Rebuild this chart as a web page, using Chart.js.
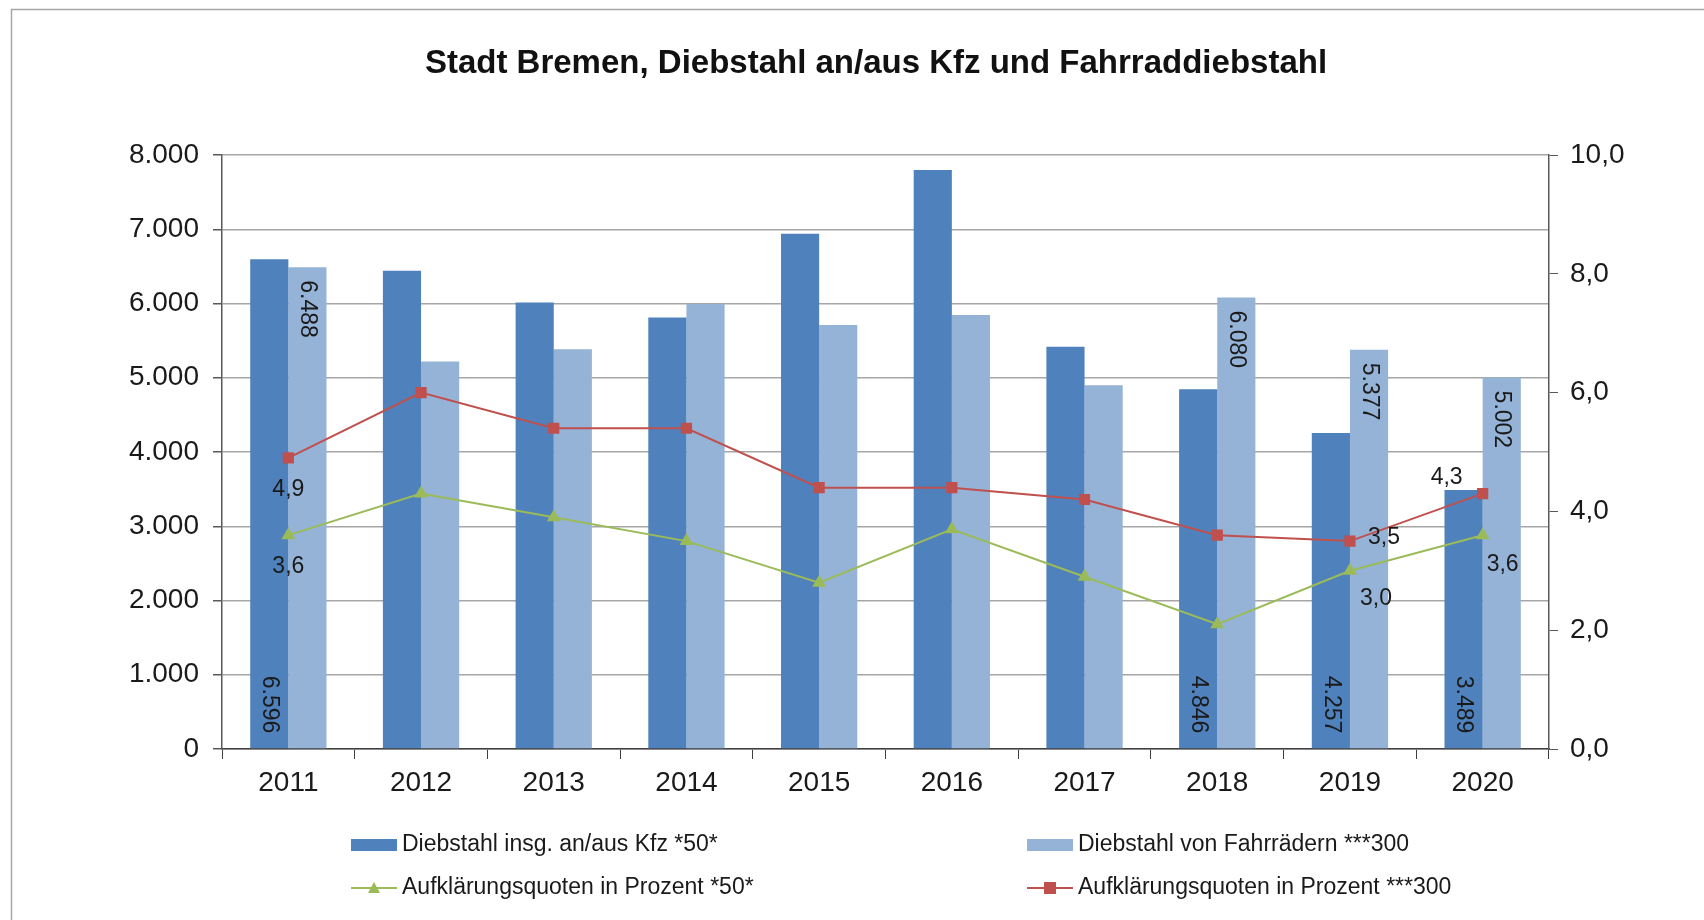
<!DOCTYPE html>
<html>
<head>
<meta charset="utf-8">
<script src="https://cdn.jsdelivr.net/npm/chart.js@4.4.1/dist/chart.umd.min.js"></script>
<style>
  html, body { margin: 0; padding: 0; background: #fff; }
  canvas { display: block; }
</style>
</head>
<body>
<canvas id="chart" width="1704" height="920"></canvas>
<script>
// --- Data ---
const years = ['2011', '2012', '2013', '2014', '2015', '2016', '2017', '2018', '2019', '2020'];
const kfzTheft = [6596, 6441, 6014, 5811, 6941, 7797, 5416, 4846, 4257, 3489];
const bikeTheft = [6488, 5218, 5383, 5992, 5712, 5844, 4900, 6080, 5377, 5002];
const kfzClearance = [3.6, 4.3, 3.9, 3.5, 2.8, 3.7, 2.9, 2.1, 3.0, 3.6];
const bikeClearance = [4.9, 6.0, 5.4, 5.4, 4.4, 4.4, 4.2, 3.6, 3.5, 4.3];
const leftTicks = [0, 1000, 2000, 3000, 4000, 5000, 6000, 7000, 8000];
const rightTicks = [0, 2, 4, 6, 8, 10];

// only these points carry a value label in the original
const barLabelYears = ['2011', '2018', '2019', '2020'];
const lineLabelYears = ['2011', '2019', '2020'];

const FONT = '"Liberation Sans", Arial, sans-serif';
const DARK = '#4F81BD';
const LIGHT = '#95B3D7';
const RED = '#C0504D';
const GREEN = '#9BBB59';

function fmtThousands(v) {
    return String(Math.round(v)).replace(/\B(?=(\d{3})+(?!\d))/g, '.');
}
function fmtDecimal(v) {
    return Number(v).toFixed(1).replace('.', ',');
}

// label offsets (px) for the line series, keyed by dataset then year
const lineLabelOffsets = {
    2: { '2011': [0, 31], '2019': [26, 28], '2020': [20, 29] },
    3: { '2011': [0, 32], '2019': [34, -3], '2020': [-36, -16] }
};

// --- Plugins ---
const frame = {
    id: 'frame',
    beforeDraw(chart) {
        const ctx = chart.ctx;
        ctx.save();
        ctx.fillStyle = '#fff';
        ctx.fillRect(0, 0, chart.width, chart.height);
        ctx.strokeStyle = '#a6a6a6';
        ctx.lineWidth = 1.5;
        ctx.strokeRect(11.5, 9.5, chart.width, chart.height);
        // title
        ctx.fillStyle = '#111';
        ctx.font = 'bold 33px ' + FONT;
        ctx.textAlign = 'center';
        ctx.textBaseline = 'middle';
        ctx.fillText('Stadt Bremen, Diebstahl an/aus Kfz und Fahrraddiebstahl', 876, 64);
        ctx.restore();
    }
};

const valueLabels = {
    id: 'valueLabels',
    afterDatasetsDraw(chart) {
        const ctx = chart.ctx;
        ctx.save();
        ctx.font = '23px ' + FONT;
        ctx.fillStyle = '#1a1a1a';
        ctx.textBaseline = 'middle';

        // rotated bar labels
        [0, 1].forEach(di => {
            const meta = chart.getDatasetMeta(di);
            const data = chart.data.datasets[di].data;
            barLabelYears.forEach(year => {
                const i = years.indexOf(year);
                const el = meta.data[i];
                ctx.save();
                if (di === 0) {
                    ctx.translate(el.x, el.base - 15);
                    ctx.textAlign = 'right';
                } else {
                    ctx.translate(el.x, el.y + 13);
                    ctx.textAlign = 'left';
                }
                ctx.rotate(Math.PI / 2);
                ctx.fillText(fmtThousands(data[i]), 0, 0);
                ctx.restore();
            });
        });

        // line labels
        ctx.textAlign = 'center';
        [2, 3].forEach(di => {
            const meta = chart.getDatasetMeta(di);
            const data = chart.data.datasets[di].data;
            lineLabelYears.forEach(year => {
                const i = years.indexOf(year);
                const el = meta.data[i];
                const off = lineLabelOffsets[di][year];
                ctx.fillText(fmtDecimal(data[i]), el.x + off[0], el.y + off[1]);
            });
        });
        ctx.restore();
    }
};

const customLegend = {
    id: 'customLegend',
    afterDraw(chart) {
        const ctx = chart.ctx;
        const ds = chart.data.datasets;
        const items = [
            { d: ds[0], x: 351, y: 845, bar: true },
            { d: ds[1], x: 1027, y: 845, bar: true },
            { d: ds[2], x: 351, y: 888, bar: false },
            { d: ds[3], x: 1027, y: 888, bar: false }
        ];
        ctx.save();
        ctx.font = '23px ' + FONT;
        ctx.textBaseline = 'middle';
        ctx.textAlign = 'left';
        items.forEach(it => {
            if (it.bar) {
                ctx.fillStyle = it.d.backgroundColor;
                ctx.fillRect(it.x, it.y - 6, 46, 12);
            } else {
                ctx.strokeStyle = it.d.borderColor;
                ctx.lineWidth = 2;
                ctx.beginPath();
                ctx.moveTo(it.x, it.y);
                ctx.lineTo(it.x + 46, it.y);
                ctx.stroke();
                ctx.fillStyle = it.d.pointBackgroundColor;
                const cx = it.x + 23;
                ctx.beginPath();
                if (it.d.pointStyle === 'triangle') {
                    ctx.moveTo(cx, it.y - 6);
                    ctx.lineTo(cx + 6, it.y + 5);
                    ctx.lineTo(cx - 6, it.y + 5);
                } else {
                    ctx.rect(cx - 6, it.y - 6, 12, 12);
                }
                ctx.fill();
            }
            ctx.fillStyle = '#1a1a1a';
            ctx.fillText(it.d.label, it.x + 51, it.y);
        });
        ctx.restore();
    }
};

// --- Chart ---
const ctx = document.getElementById('chart').getContext('2d');
new Chart(ctx, {
    type: 'bar',
    data: {
        labels: years,
        datasets: [{
            label: 'Diebstahl insg. an/aus Kfz *50*',
            data: kfzTheft,
            backgroundColor: DARK,
            yAxisID: 'y',
            order: 2,
            categoryPercentage: 0.575,
            barPercentage: 1.0
        }, {
            label: 'Diebstahl von Fahrrädern ***300',
            data: bikeTheft,
            backgroundColor: LIGHT,
            yAxisID: 'y',
            order: 2,
            categoryPercentage: 0.575,
            barPercentage: 1.0
        }, {
            type: 'line',
            label: 'Aufklärungsquoten in Prozent *50*',
            data: kfzClearance,
            borderColor: GREEN,
            backgroundColor: GREEN,
            pointBackgroundColor: GREEN,
            pointBorderColor: GREEN,
            pointStyle: 'triangle',
            pointRadius: 6,
            borderWidth: 2,
            yAxisID: 'y1',
            order: 1
        }, {
            type: 'line',
            label: 'Aufklärungsquoten in Prozent ***300',
            data: bikeClearance,
            borderColor: RED,
            backgroundColor: RED,
            pointBackgroundColor: RED,
            pointBorderColor: RED,
            pointStyle: 'rect',
            pointRadius: 6.5,
            borderWidth: 2,
            yAxisID: 'y1',
            order: 0
        }]
    },
    options: {
        responsive: false,
        animation: false,
        devicePixelRatio: 1,
        layout: { padding: { top: 155, left: 0, right: 0, bottom: 0 } },
        plugins: {
            legend: { display: false },
            title: { display: false },
            tooltip: { enabled: false }
        },
        scales: {
            x: {
                grid: {
                    offset: true,
                    drawOnChartArea: false,
                    color: '#404040',
                    tickLength: 10
                },
                border: { color: '#404040', width: 1.5 },
                ticks: { font: { family: FONT, size: 28 }, color: '#1a1a1a', padding: 7 },
                afterFit(s) { s.height = 171; }
            },
            y: {
                position: 'left',
                min: leftTicks[0],
                max: leftTicks[leftTicks.length - 1],
                afterBuildTicks(s) { s.ticks = leftTicks.map(v => ({ value: v })); },
                ticks: {
                    callback: v => fmtThousands(v),
                    font: { family: FONT, size: 28 },
                    color: '#1a1a1a',
                    padding: 14
                },
                grid: { color: '#a6a6a6', tickColor: '#595959', tickLength: 9, lineWidth: 1.5 },
                border: { color: '#595959', width: 1.5 },
                afterFit(s) { s.width = 222; }
            },
            y1: {
                position: 'right',
                min: rightTicks[0],
                max: rightTicks[rightTicks.length - 1],
                afterBuildTicks(s) { s.ticks = rightTicks.map(v => ({ value: v })); },
                ticks: {
                    callback: v => fmtDecimal(v),
                    font: { family: FONT, size: 28 },
                    color: '#1a1a1a',
                    padding: 12
                },
                grid: { drawOnChartArea: false, color: '#595959', tickLength: 9 },
                border: { color: '#595959', width: 1.5 },
                afterFit(s) { s.width = 155; }
            }
        }
    },
    plugins: [frame, valueLabels, customLegend]
});
</script>
</body>
</html>
